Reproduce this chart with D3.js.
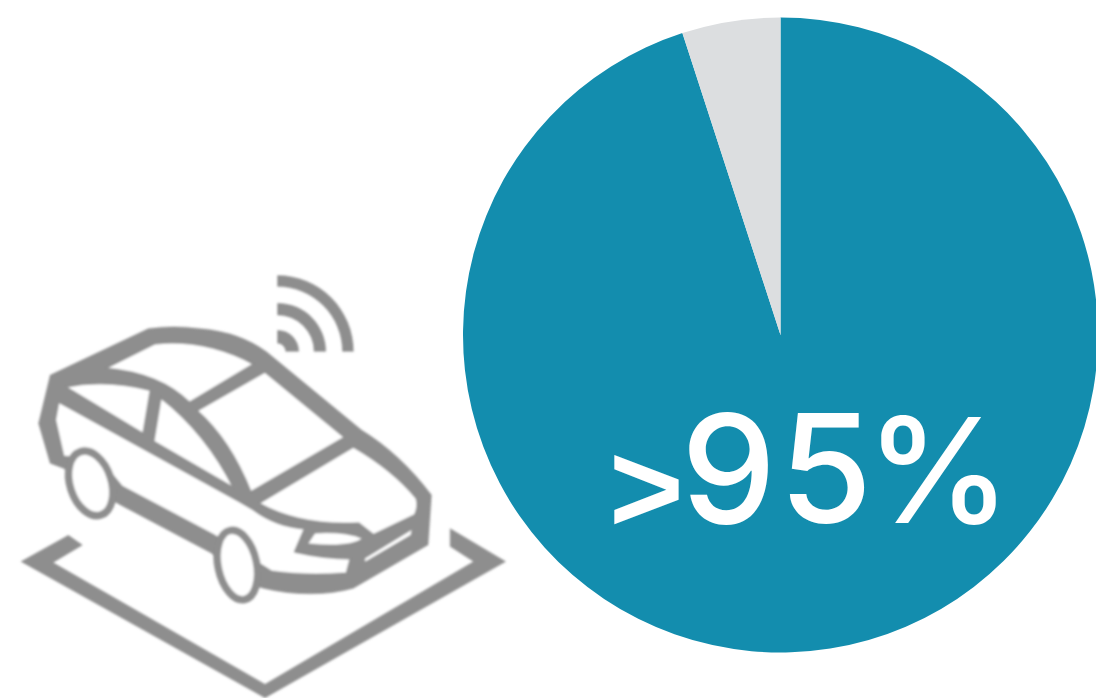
<!DOCTYPE html>
<html>
<head>
<meta charset="utf-8">
<script src="https://cdn.jsdelivr.net/npm/d3@7"></script>
<style>
  html, body { margin: 0; padding: 0; background: #fff; }
  svg { display: block; }
</style>
</head>
<body>
<svg id="chart" width="1096" height="698"></svg>
<script>
// Share of connected cars
const categories = ["Connected", "Other"];
const shareValues = [95, 5];
const shareColors = ["#138dae", "#dcdee0"];
const headlinePrefix = ">";
const headlineValue = "95";
const headlineUnit = "%";

const svg = d3.select("#chart");
const iconGrey = "#8e8e8e";

// Pie
const pie = d3.pie().sort(null).value(d => d.value);
const arc = d3.arc().innerRadius(0).outerRadius(317.5);
const slices = categories.map((name, i) => ({ name, value: shareValues[i] }));
const colour = d3.scaleOrdinal().domain(categories).range(shareColors);

svg.append("g")
  .attr("transform", "translate(780.5,335)")
  .selectAll("path")
  .data(pie(slices))
  .join("path")
  .attr("d", arc)
  .attr("fill", d => colour(d.data.name));

// Headline: the comparison sign is set smaller and lower than the figures
const label = svg.append("text")
  .attr("fill", "#fff");

label.append("tspan")
  .attr("x", 609)
  .attr("y", 532)
  .attr("font-family", "'Liberation Sans', Arial, sans-serif")
  .attr("font-size", 128)
  .attr("font-weight", "bold")
  .text(headlinePrefix);

label.append("tspan")
  .attr("x", "681 779")
  .attr("y", 523)
  .attr("font-family", "Inter, 'Liberation Sans', sans-serif")
  .attr("font-size", 151)
  .attr("font-weight", 500)
  .text(headlineValue);

label.append("tspan")
  .attr("x", 866)
  .attr("y", 523)
  .attr("font-family", "Inter, 'Liberation Sans', sans-serif")
  .attr("font-size", 146)
  .attr("font-weight", 500)
  .text(headlineUnit);

// Car pictogram, authored on a 3x grid
const defs = svg.append("defs");
defs.append("filter").attr("id", "soft")
  .attr("x", "-5%").attr("y", "-5%").attr("width", "110%").attr("height", "110%")
  .append("feGaussianBlur").attr("stdDeviation", 3.2);

const icon = svg.append("g")
  .attr("transform", "translate(0,260) scale(0.3333)")
  .attr("filter", "url(#soft)");

// Parking bay bracket
icon.append("path").attr("fill", iconGrey)
  .attr("d", "M205,825 L62,905 L795,1314 L1518,905 L1350,805 L1350,860 L1420,905 L795,1272 L160,908 L248,855 Z");

// Signal waves
const waveCentre = "translate(832,275)";
const waveBands = [[25, 65], [110, 146], [195, 229]];
const wave = d3.arc().startAngle(0).endAngle(Math.PI / 2);
icon.append("g").attr("transform", waveCentre)
  .selectAll("path")
  .data(waveBands)
  .join("path")
  .attr("fill", iconGrey)
  .attr("d", d => wave({ innerRadius: d[0], outerRadius: d[1] }));

// Body silhouette
icon.append("path").attr("fill", iconGrey)
  .attr("d", "M150,345 L445,205 Q520,195 600,205 Q720,215 800,275 L1085,510 Q1200,580 1295,705 L1285,855 L1060,985 Q1000,1002 930,1002 Q860,1002 790,985 L700,960 L635,880 L360,735 L300,700 L190,625 L150,610 L115,490 Z");

// Panels and glass cut out of the silhouette
const panels = [
  "M315,325 L465,250 Q620,235 762,312 L568,428 Q480,340 315,325 Z",
  "M795,335 L1035,532 L752,697 Q690,540 590,452 Z",
  "M1060,560 Q1180,630 1250,715 Q1257,740 1245,765 L1120,825 L1075,790 Q900,800 775,730 Z",
  "M195,380 Q320,355 452,390 L430,522 Z",
  "M482,412 Q620,520 702,685 L460,545 Z",
  "M175,425 L720,725 L760,748 Q830,800 915,805 L885,875 Q970,895 1052,895 L1040,940 Q920,950 815,935 L640,825 L365,680 L300,600 L190,590 L165,480 Z",
  "M925,850 L945,820 Q1030,815 1085,835 Q1050,862 925,850 Z",
  "M1095,895 L1235,810 L1232,825 L1095,905 Z"
];
const heavyEdge = [6, 6, 6, 6, 6, 6, 0, 0];
icon.append("g").selectAll("path")
  .data(panels)
  .join("path")
  .attr("fill", "#fff")
  .attr("stroke", iconGrey)
  .attr("stroke-width", (d, i) => heavyEdge[i])
  .attr("stroke-linejoin", "round")
  .attr("d", d => d);

// Wheels
const wheels = [
  { cx: 272, cy: 670, rx: 62, ry: 100, tilt: -18 },
  { cx: 712, cy: 915, rx: 58, ry: 106, tilt: -12 }
];
icon.append("g").selectAll("ellipse")
  .data(wheels)
  .join("ellipse")
  .attr("cx", d => d.cx).attr("cy", d => d.cy)
  .attr("rx", d => d.rx).attr("ry", d => d.ry)
  .attr("transform", d => `rotate(${d.tilt},${d.cx},${d.cy})`)
  .attr("fill", "#fff")
  .attr("stroke", iconGrey)
  .attr("stroke-width", 22);
</script>
</body>
</html>
